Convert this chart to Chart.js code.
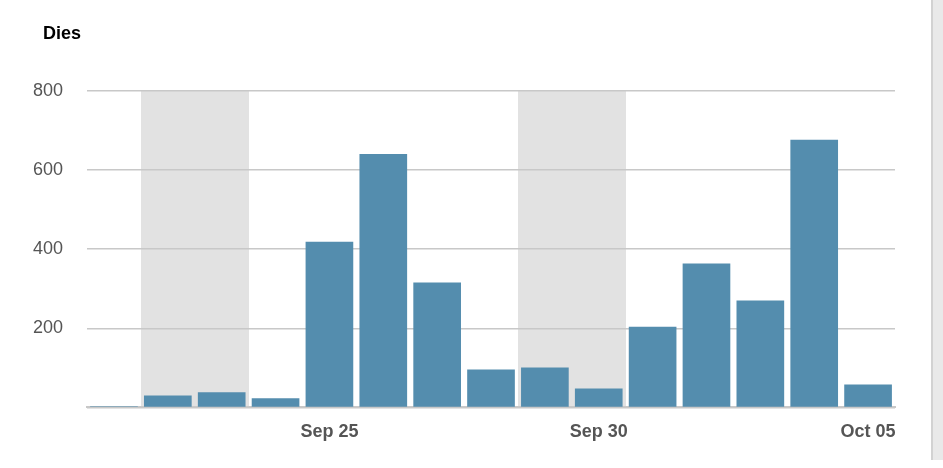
<!DOCTYPE html>
<html>
<head>
<meta charset="utf-8">
<script src="https://cdn.jsdelivr.net/npm/chart.js"></script>
<style>
    body { margin: 0; background: #fff; font-family: 'Liberation Sans', Arial, sans-serif; }
    #wrap { position: relative; width: 943px; height: 468px; overflow: hidden; }
    #title { position: absolute; left: 43px; top: 23px; font-weight: bold; font-size: 18px; color: #000; }
    #box { position: absolute; left: 0; top: 0; width: 931px; height: 468px; }
    #side { position: absolute; left: 931px; top: 0; width: 12px; height: 460px; background: #e9e9e9; border-left: 2px solid #d2d2d2; }
</style>
</head>
<body>
<div id="wrap">
    <div id="box"><canvas id="chart"></canvas></div>
    <div id="title">Dies</div>
    <div id="side"></div>
</div>
<script>
let days = ['Sep 21', 'Sep 22', 'Sep 23', 'Sep 24', 'Sep 25', 'Sep 26', 'Sep 27', 'Sep 28',
    'Sep 29', 'Sep 30', 'Oct 01', 'Oct 02', 'Oct 03', 'Oct 04', 'Oct 05']
let values = [3, 30, 38, 23, 419, 641, 316, 96, 101, 48, 204, 364, 270, 677, 58]
let weekendDays = ['Sep 22', 'Sep 23', 'Sep 29', 'Sep 30']
let shownLabels = ['Sep 25', 'Sep 30', 'Oct 05']

// gray bands behind the weekend columns
const weekendBands = {
    id: 'weekendBands',
    beforeDraw(chart) {
        let ctx = chart.ctx
        let area = chart.chartArea
        let x = chart.scales.x
        ctx.save()
        ctx.fillStyle = '#e2e2e2'
        weekendDays.forEach(d => {
            let i = days.indexOf(d)
            let x0 = Math.round(x.getPixelForValue(i - 0.5))
            let x1 = Math.round(x.getPixelForValue(i + 0.5))
            ctx.fillRect(x0, area.top, x1 - x0, area.bottom - area.top)
        })
        ctx.restore()
    }
}

let ctx = document.getElementById('chart').getContext('2d');
let chart = new Chart(ctx, {
    type: 'bar',
    data: {
        labels: days,
        datasets: [{
            data: values,
            backgroundColor: '#548dae',
            barPercentage: 0.885,
            categoryPercentage: 1
        }]
    },
    options: {
        responsive: true,
        maintainAspectRatio: false,
        animation: false,
        plugins: {
            legend: { display: false },
            tooltip: { enabled: false }
        },
        layout: {
            padding: { left: 9, right: 36, top: 91, bottom: 11 }
        },
        scales: {
            x: {
                grid: { display: false, drawTicks: false },
                border: { color: '#c8c8c8', width: 2 },
                ticks: {
                    autoSkip: false,
                    maxRotation: 0,
                    padding: 14,
                    color: '#555',
                    font: { family: 'Liberation Sans', size: 18, weight: 'bold' },
                    callback: function (value) {
                        let lab = days[value]
                        return shownLabels.includes(lab) ? lab : ''
                    }
                }
            },
            y: {
                min: 0,
                max: 800,
                grid: { color: '#c8c8c8', lineWidth: 1.5, drawTicks: false },
                border: { display: false },
                ticks: {
                    stepSize: 200,
                    padding: 24,
                    color: '#555',
                    font: { family: 'Liberation Sans', size: 18 },
                    callback: v => v === 0 ? '' : v
                }
            }
        }
    },
    plugins: [weekendBands]
})
</script>
</body>
</html>
